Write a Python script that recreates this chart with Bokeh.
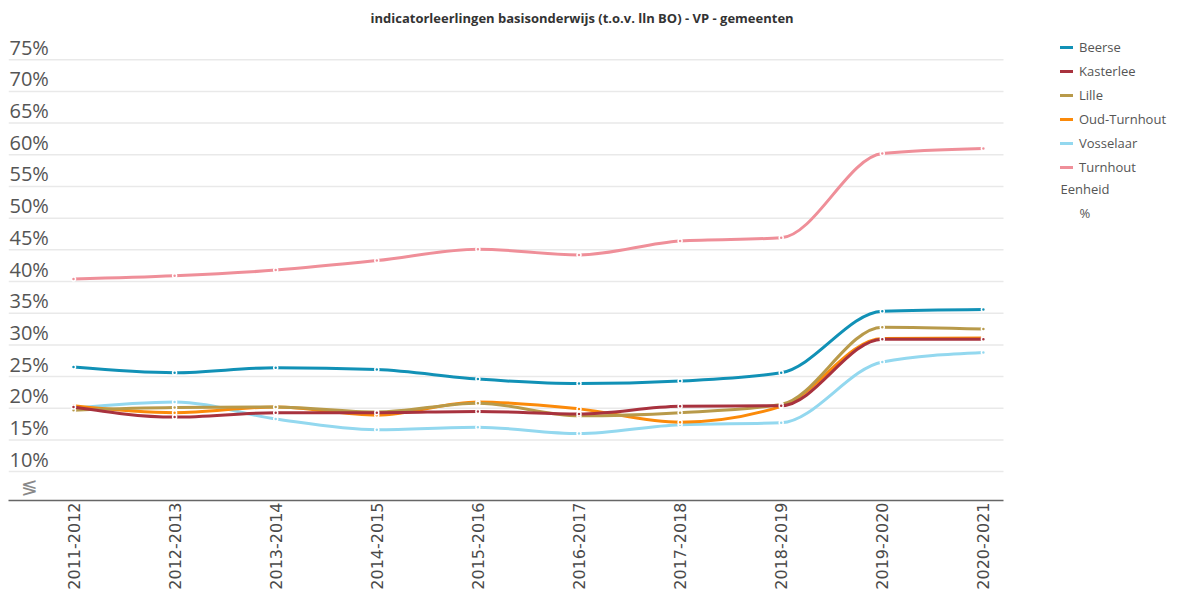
import math
import numpy as np
from bokeh.plotting import figure
from bokeh.models import FixedTicker, Legend, LegendItem, Range1d, ColumnDataSource
from bokeh.core.properties import value
from bokeh.embed import file_html
from bokeh.resources import INLINE

# ---- data ----
seasons = ["2011-2012", "2012-2013", "2013-2014", "2014-2015", "2015-2016",
           "2016-2017", "2017-2018", "2018-2019", "2019-2020", "2020-2021"]
beerse = [26.5, 25.6, 26.4, 26.1, 24.6, 23.9, 24.3, 25.6, 35.3, 35.6]
kasterlee = [20.2, 18.6, 19.3, 19.3, 19.5, 19.1, 20.3, 20.4, 30.9, 30.9]
lille = [19.7, 20.1, 20.2, 19.4, 20.8, 18.8, 19.3, 20.6, 32.8, 32.5]
oud_turnhout = [20.4, 19.3, 20.2, 18.9, 21.0, 19.9, 17.8, 20.3, 31.0, 31.1]
vosselaar = [20.0, 21.0, 18.3, 16.6, 17.0, 16.0, 17.4, 17.7, 27.3, 28.8]
turnhout = [40.4, 40.9, 41.8, 43.3, 45.1, 44.2, 46.4, 46.9, 60.2, 61.0]
y_ticks = [10, 15, 20, 25, 30, 35, 40, 45, 50, 55, 60, 65, 70, 75]
y_tick_labels = [f"{t}%" for t in y_ticks]

series = [
    ("Beerse", beerse, "#1191b6"),
    ("Kasterlee", kasterlee, "#a8323e"),
    ("Lille", lille, "#b89a4a"),
    ("Oud-Turnhout", oud_turnhout, "#fb8a0a"),
    ("Vosselaar", vosselaar, "#93d8ef"),
    ("Turnhout", turnhout, "#ef8f99"),
]

title_text = "indicatorleerlingen basisonderwijs (t.o.v. lln BO) - VP - gemeenten"
unit_title = "Eenheid"
unit_label = "%"

FONT = "Open Sans"
xs = np.arange(len(seasons), dtype=float)

# ---- layout constants ----
x_start, x_end = -0.643, 10.831     # frame spans plot + legend area
grid_end = 9.199                     # gridlines / axis stop before legend
y_start, y_end = 5.44, 79.3

p = figure(width=1168, height=592,
           x_range=Range1d(x_start, x_end), y_range=Range1d(y_start, y_end),
           output_backend="svg", toolbar_location=None,
           min_border_left=8, min_border_right=0, min_border_top=30, min_border_bottom=0)
p.outline_line_color = None
p.background_fill_color = "white"

# title
p.title.text = title_text
p.title.align = "left"
p.title.offset = 362
p.title.text_font = FONT
p.title.text_font_size = "13px"
p.title.text_font_style = "bold"
p.title.text_color = "#333333"
p.title.standoff = 12

# y axis hidden; horizontal gridlines drawn only over the plot part
p.yaxis.visible = False
p.ygrid.visible = False
p.xgrid.visible = False
p.segment(x0=[x_start] * len(y_ticks), x1=[grid_end] * len(y_ticks), y0=y_ticks, y1=y_ticks,
          line_color="#e9e9e9", line_width=1.5)

# x axis
p.xaxis.ticker = FixedTicker(ticks=list(xs))
p.xaxis.bounds = (x_start, grid_end)
p.xaxis.major_label_overrides = {i: s for i, s in enumerate(seasons)}
p.xaxis.major_label_orientation = math.pi / 2
p.xaxis.major_label_text_font = "DejaVu Sans"
p.xaxis.major_label_text_font_size = "16px"
p.xaxis.major_label_text_color = "#4a4a4a"
p.xaxis.major_tick_line_color = None
p.xaxis.minor_tick_line_color = None
p.xaxis.major_label_standoff = -4
p.xaxis.axis_line_color = "#666666"
p.xaxis.axis_line_width = 1.5

# y tick labels (sit above their gridlines)
ysrc = ColumnDataSource(dict(x=[x_start] * len(y_ticks), y=y_ticks, t=y_tick_labels))
p.text(x="x", y="y", text="t", source=ysrc, x_offset=1, y_offset=1,
       text_font=value(FONT), text_font_size="20px", text_color="#555555",
       text_align="left", text_baseline="bottom")

# axis break symbol
p.text(x=[-0.435], y=[7.65], text=["\u2276"], text_font=value(FONT), text_font_size="20px",
       text_color="#888888", text_align="center", text_baseline="middle")


def monotone_beziers(x, y):
    x = np.asarray(x, float)
    y = np.asarray(y, float)
    n = len(x)
    t = np.zeros(n)
    for i in range(1, n - 1):
        h0 = x[i] - x[i - 1]
        h1 = x[i + 1] - x[i]
        s0 = (y[i] - y[i - 1]) / h0
        s1 = (y[i + 1] - y[i]) / h1
        pp = (s0 * h1 + s1 * h0) / (h0 + h1)
        t[i] = (np.sign(s0) + np.sign(s1)) * min(abs(s0), abs(s1), 0.5 * abs(pp))
    t[0] = (3 * (y[1] - y[0]) / (x[1] - x[0]) - t[1]) / 2
    t[-1] = (3 * (y[-1] - y[-2]) / (x[-1] - x[-2]) - t[-2]) / 2
    dx = (x[1:] - x[:-1]) / 3
    return dict(x0=x[:-1], y0=y[:-1], x1=x[1:], y1=y[1:],
                cx0=x[:-1] + dx, cy0=y[:-1] + dx * t[:-1],
                cx1=x[1:] - dx, cy1=y[1:] - dx * t[1:])


renderers = {}
for name, vals, color in reversed(series):
    src = ColumnDataSource(monotone_beziers(xs, vals))
    r = p.bezier(x0="x0", y0="y0", x1="x1", y1="y1", cx0="cx0", cy0="cy0", cx1="cx1", cy1="cy1",
                 source=src, line_color=color, line_width=3, line_cap="round")
    p.scatter(xs, vals, size=4, fill_color=color, line_color="white", line_width=1.5)
    renderers[name] = r

items = [LegendItem(label=name, renderers=[renderers[name]]) for name, _, _ in series]
legend = Legend(items=items, location=(1052, 323), orientation="vertical",
                label_text_font=FONT, label_text_font_size="13px", label_text_color="#555555",
                glyph_width=13, glyph_height=20, label_height=20, label_standoff=6,
                spacing=4, padding=0, margin=0, border_line_alpha=0, background_fill_alpha=0)
p.add_layout(legend)

# unit note under the legend
p.text(x=[9.763, 9.951], y=[54.57, 50.79], text=[unit_title, unit_label],
       text_font=value(FONT), text_font_size="13px", text_color="#555555",
       text_align="left", text_baseline="middle")

open("out.html", "w").write(file_html(p, INLINE))
